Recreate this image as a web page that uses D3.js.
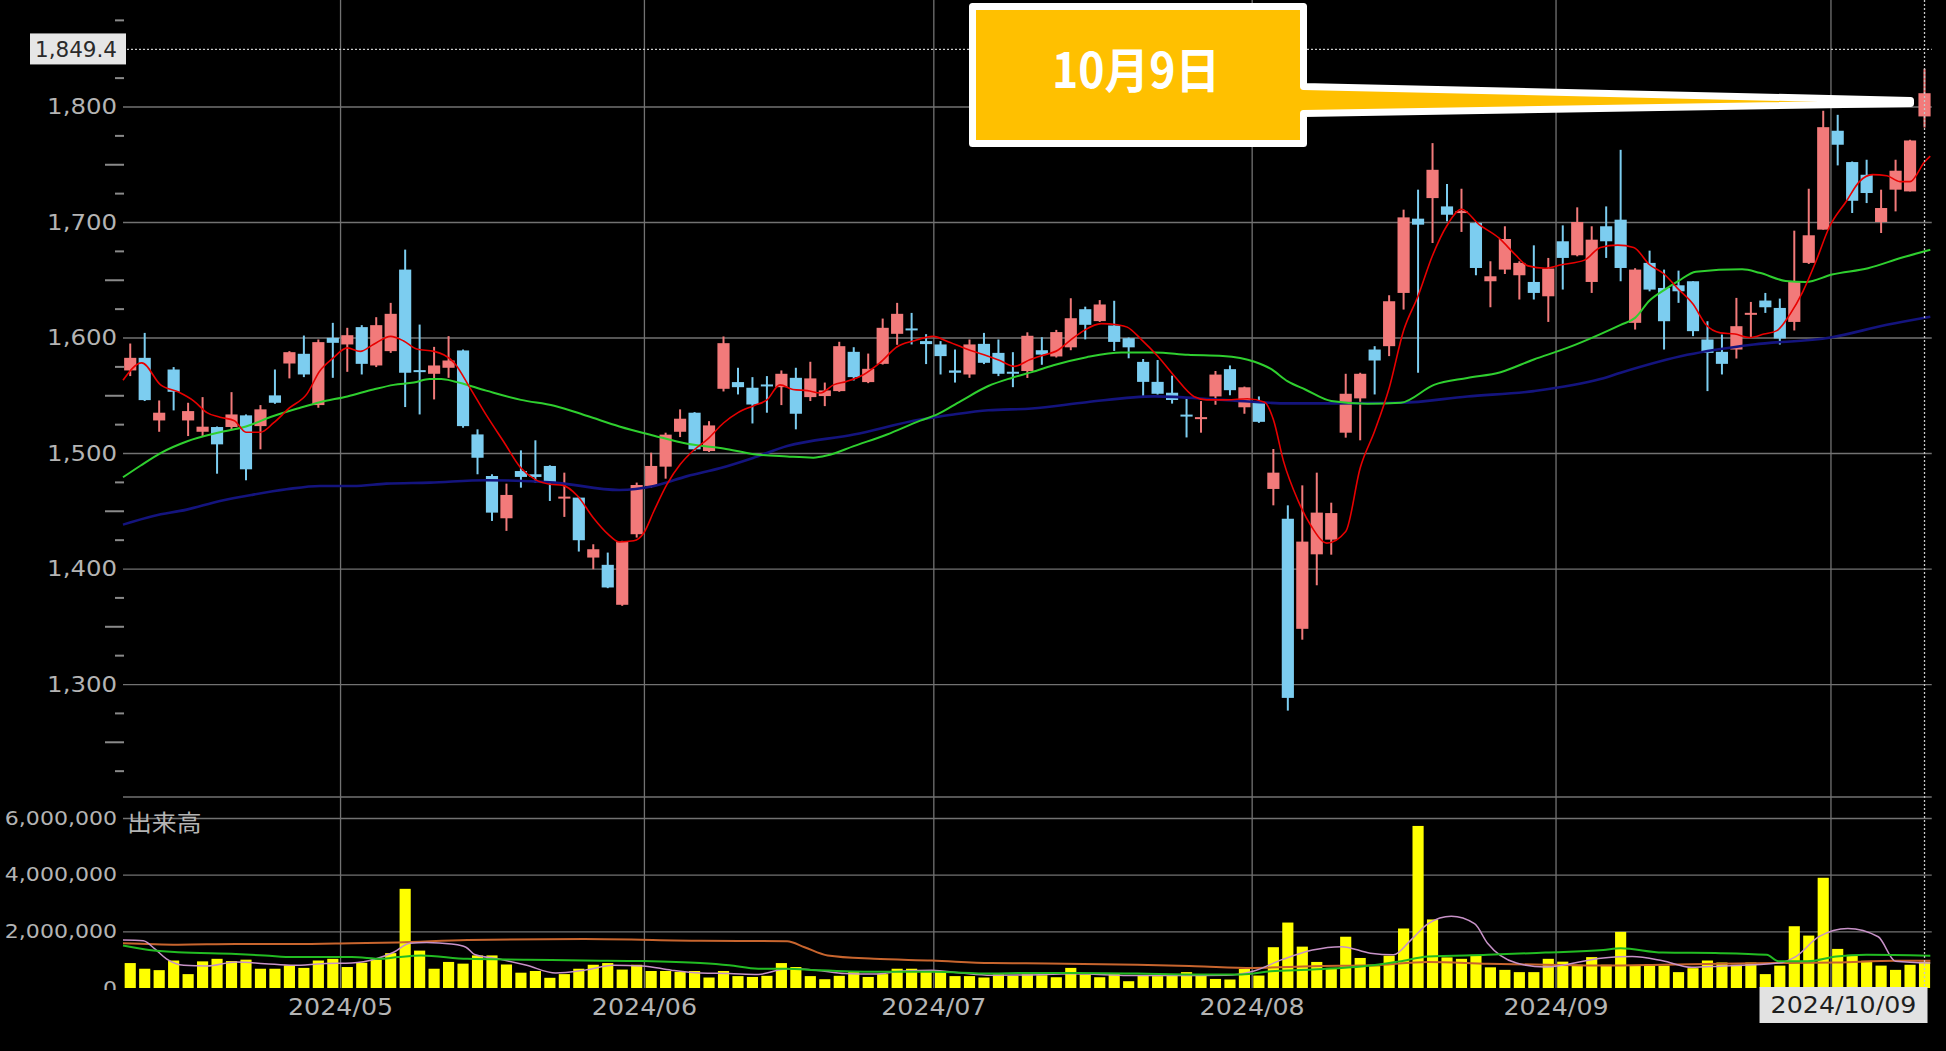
<!DOCTYPE html>
<html><head><meta charset="utf-8">
<script src="https://cdn.jsdelivr.net/npm/d3@7"></script>
<style>html,body{margin:0;padding:0;background:#000;overflow:hidden}</style>
</head><body>
<svg id="c" width="1946" height="1051"></svg>
<script>
// ---------- categories (trading days) ----------
const aprDays=[9,10,11,12,15,16,17,18,19,22,23,24,25,26,30];
const mayDays=[1,2,7,8,9,10,13,14,15,16,17,20,21,22,23,24,27,28,29,30,31];
const junDays=[3,4,5,6,7,10,11,12,13,14,17,18,19,20,21,24,25,26,27,28];
const julDays=[1,2,3,4,5,8,9,10,11,12,16,17,18,19,22,23,24,25,26,29,30,31];
const augDays=[1,2,5,6,7,8,9,13,14,15,16,19,20,21,22,23,26,27,28,29,30];
const sepDays=[2,3,4,5,6,9,10,11,12,13,17,18,19,20,24,25,26,27,30];
const octDays=[1,2,3,4,7,8,9];
const monthNames=["2024/04","2024/05","2024/06","2024/07","2024/08","2024/09","2024/10"];
// month labels shown under the axis (the October one is hidden behind the date box)
const monthTickLabels=["2024/05","2024/06","2024/07","2024/08","2024/09"];

// ---------- OHLC ----------
const openP=[1571.5,1582.4,1528.2,1572.3,1528.2,1518.4,1522.5,1522.5,1532.6,1523.3,
1549.9,1577.5,1585.9,1541.5,1599.7,1594,1609,1575.8,1588.2,1658.8,
1570.9,1568.6,1573.8,1588.8,1516.1,1480.1,1443.5,1484.4,1481.6,1488.8,
1460,1461.4,1409.5,1403.2,1368.6,1429.7,1471.5,1488.2,1518.4,1534.9,
1501.7,1555.6,1561.4,1556.5,1558.5,1557,1565.1,1548.4,1549.3,1553.6,
1587.6,1561.4,1577.2,1603.2,1607,1596.9,1594,1571.5,1568,1594.5,
1586.7,1569.5,1571,1589,1583.6,1591.5,1624.5,1614.2,1610.4,1599.4,
1578.9,1561.6,1552.2,1532.4,1528.6,1549,1572.6,1539.6,1544.3,1468.9,
1443.1,1347.8,1412.3,1425,1517.6,1547.3,1589.6,1592.5,1638.6,1702.9,
1720.7,1713.5,1706.9,1699.1,1648.7,1658.8,1653.9,1648.1,1635.7,1683.3,
1671.2,1648.1,1696.3,1702,1612.7,1664.6,1642.9,1645.2,1648.7,1598.3,
1587.6,1589.6,1619.3,1632,1625.6,1613.5,1664.6,1693.4,1779,1751.9,
1740.9,1700,1728,1726.5,1791.4];
const highP=[1594.8,1604,1545.5,1574.4,1543.5,1548.4,1523,1552.7,1533.4,1541.5,
1572.3,1588.2,1601.7,1598.3,1612.7,1608.4,1610.7,1617.6,1630,1676.1,
1611.2,1591.9,1601.2,1589.6,1520.5,1481.6,1473.5,1502.3,1511,1489.4,
1483,1462,1421,1413.8,1424,1474.4,1500.3,1517.6,1537.8,1535.4,
1527.6,1600.9,1573.8,1565.7,1566.6,1571.5,1573.8,1579,1561,1596.3,
1591.6,1586.1,1616.4,1630,1621.3,1602.9,1596.9,1589.6,1598.3,1604,
1598.3,1587.3,1604.5,1600.3,1606.6,1634,1626.7,1632.4,1631.8,1600,
1581.4,1580.5,1567,1546.9,1545,1571,1575.8,1557.5,1549,1503.5,
1454.7,1472,1483,1457,1568.6,1569.5,1592.5,1636.6,1710.7,1728,
1768.3,1732.9,1728.8,1700,1666,1696.3,1666,1679.8,1668.9,1697.1,
1712.7,1696.3,1713.5,1762.5,1660,1675.2,1658.8,1657.9,1648.7,1614.1,
1602.6,1634.3,1630.8,1638.6,1633.7,1692.5,1728.8,1796.3,1792.8,1752.4,
1753.9,1728,1753.9,1771.2,1832.6];
const lowP=[1566.6,1545,1518.4,1536.9,1514.7,1514.7,1482.1,1520,1476.4,1503.2,
1542.6,1564.6,1565.7,1539.2,1565.1,1570.3,1568,1574.4,1586.7,1539.8,
1533.4,1546.4,1565.1,1521.9,1481.6,1441.2,1432.6,1470,1474.4,1458.5,
1444.7,1414.7,1399.4,1383,1367.7,1426.8,1470,1477.8,1513.8,1501.7,
1500.9,1553.3,1550.7,1525.6,1534.9,1541.5,1520.5,1545,1540.6,1553,
1562.8,1560.5,1576.6,1593.7,1594,1577,1568,1561,1565.1,1577,
1566.6,1557,1565,1576.4,1582.7,1589,1598.4,1613.5,1588.4,1582,
1548.1,1550.6,1542.8,1513.5,1517.6,1541.8,1550,1534,1526.1,1454.7,
1277,1338.4,1385.5,1412,1513.3,1511,1550.7,1583.9,1624.2,1569.5,
1681.8,1700.6,1691.4,1653.9,1626.2,1655,1632.9,1632.9,1613.5,1641.5,
1670.3,1638.6,1668.9,1648.7,1606.9,1640,1589.6,1630,1601.2,1553.6,
1568,1581.8,1599.7,1621.3,1593.9,1606.1,1663.7,1693.4,1749,1707.8,
1716.4,1690.5,1709.2,1726.5,1781.8];
const closeP=[1582.4,1545.8,1534.9,1553,1536.3,1522.8,1507.5,1533.4,1485.9,1537.8,
1543.5,1587.3,1568,1596,1595.4,1602,1577.2,1610.7,1620.5,1569.5,
1569.5,1575.8,1580.1,1523.3,1495.9,1448.4,1463.7,1479.3,1479.3,1474.4,
1461.4,1424.5,1416.7,1383.6,1423.3,1472.3,1488.8,1515.9,1529.7,1503.2,
1523.9,1595.1,1557,1542,1557,1568.6,1534,1564.6,1554.2,1592.5,
1565.7,1572.9,1608.4,1620.5,1606,1594.3,1583.9,1569.5,1594,1578.1,
1568.6,1568,1601.5,1585.2,1604.7,1616.7,1611,1628.6,1596.2,1591.5,
1561.6,1551.3,1545.9,1530.8,1530.2,1567.9,1554.4,1556.9,1527,1483,
1288,1423.3,1448.4,1448,1551.3,1568.6,1580.1,1631.4,1704,1697.7,
1745.2,1706.3,1708.6,1660.2,1653,1685.3,1664.6,1638.6,1659.7,1668.9,
1700,1684.7,1683.3,1660.2,1658.8,1641.5,1614.1,1640,1605.5,1586.7,
1577.2,1609.8,1620.5,1626.2,1599.1,1648.1,1688.5,1782.1,1766.9,1718.4,
1725.1,1712.1,1744.4,1770.6,1811.5];

// ---------- volume (millions of shares) ----------
const volumeM=[0.88,0.68,0.63,0.97,0.49,0.94,1.03,0.95,1.0,0.68,0.68,0.8,0.71,0.97,1.03,
0.74,0.89,1.0,1.23,3.5,1.32,0.68,0.92,0.86,1.15,1.15,0.83,0.54,0.6,0.36,0.49,0.68,0.82,0.88,0.65,0.82,
0.6,0.6,0.57,0.6,0.37,0.6,0.42,0.39,0.43,0.88,0.74,0.42,0.31,0.43,0.59,0.39,0.49,0.68,0.68,0.59,
0.59,0.42,0.42,0.37,0.48,0.43,0.48,0.45,0.38,0.71,0.48,0.38,0.51,0.24,0.45,0.42,0.45,0.56,0.45,0.32,0.3,0.67,
0.44,1.44,2.31,1.46,0.92,0.71,1.81,1.06,0.77,1.14,2.1,5.72,2.42,1.08,1.03,1.17,0.73,0.64,0.56,0.56,1.03,
0.93,0.82,1.09,0.82,1.98,0.79,0.79,0.79,0.56,0.7,0.97,0.9,0.82,0.9,0.49,0.79,2.18,1.85,3.89,
1.38,1.17,0.96,0.79,0.64,0.82,0.93];

// ---------- moving-average lines: [candle index, value] ----------
const ma5Line=[[-0.5,1563],[0.8,1578],[2.1,1559],[3.3,1553],[4.4,1545],[5.3,1535],[6.2,1531],[7.2,1528],[8,1518],[9,1518],[9.9,1526],[11,1539],[12.2,1551],[13.1,1571],[14,1582],[15,1591],[15.9,1588],[16.8,1594],[18,1601],[18.9,1597],[19.8,1590],[21,1588],[22.4,1578],[23.5,1556],[24.6,1533],[25.8,1510],[27,1487],[28,1477],[29,1473],[29.9,1472],[30.9,1463],[32,1444],[33,1430],[33.8,1423],[34.8,1424],[35.5,1431],[36.2,1450],[37.1,1473],[38,1490],[38.9,1502],[39.9,1512],[41,1526],[42,1535],[43.1,1541],[44,1546],[44.9,1559],[45.8,1555],[46.8,1554],[47.7,1552],[48.6,1559],[49.5,1562],[50.7,1568],[51.8,1578],[53,1592],[54.1,1597],[55.5,1601],[56.4,1597],[57.8,1590],[59,1585],[60.1,1580],[61.1,1575],[62.2,1581],[62.9,1584],[64.1,1589],[65,1598],[65.9,1606],[67.1,1612],[68.2,1611],[68.9,1609],[69.9,1598],[71,1584],[72.2,1566],[73.5,1549],[74.4,1546],[75.8,1546],[77.2,1547],[78.4,1544],[79,1529],[79.7,1493],[80.7,1459],[81.6,1437],[82.7,1422],[84,1432],[85,1487],[86,1519],[87,1556],[88,1606],[89,1636],[90,1671],[91,1697],[92,1711],[93.2,1698],[94.6,1686],[95.7,1672],[96.6,1662],[97.8,1660],[98.9,1663],[100.5,1667],[101.6,1678],[102.8,1680],[103.9,1678],[105,1663],[106,1655],[106.9,1643],[108,1629],[108.9,1611],[109.9,1604],[110.9,1603],[111.9,1600],[112.9,1603],[113.8,1606],[114.7,1620],[115.6,1640],[116.5,1666],[117.4,1695],[118.6,1718],[119.5,1735],[120.4,1741],[121.4,1740],[122.3,1735],[123,1735],[124,1752],[124.4,1757]];
const ma25Line=[[-0.5,1479],[0.7,1489],[2.1,1500],[3.9,1510],[6.2,1518],[8,1523],[9.9,1532],[11.7,1539],[13.1,1544],[15,1549],[16.8,1555],[18.2,1559],[19.6,1561],[20.7,1564],[21.5,1564],[22.4,1562],[24.6,1554],[27,1546],[29.3,1541],[31.6,1532],[33.8,1523],[36.2,1515],[38.5,1508],[41,1504],[43.1,1499],[45.4,1497],[47.2,1496],[48.2,1498],[50,1506],[52.3,1516],[54.6,1528],[55.7,1533],[57.4,1545],[59.3,1558],[60.9,1565],[62.3,1570],[63.8,1576],[66.1,1583],[68.5,1587],[70.8,1587],[73.1,1585],[75.5,1584],[77.7,1579],[78.8,1573],[80,1562],[81.2,1555],[83,1545],[85.5,1542.6],[87.8,1543.5],[90.1,1559],[92.4,1565],[94.7,1570],[97,1581],[99.3,1591],[101.6,1603],[103,1611],[104,1617],[105,1632],[106,1641],[107,1649],[108.2,1657],[111.4,1659],[112.6,1656],[114.4,1649],[115.8,1648],[117.6,1654.5],[120.1,1660],[122.4,1669],[124.4,1676]];
const ma75Line=[[-0.5,1438],[1.6,1445.5],[3.9,1451],[6.2,1458.5],[8.5,1464],[10.8,1468.6],[13.1,1471.5],[15.4,1471.5],[17.7,1473.5],[20.7,1474.4],[24.6,1476.4],[29.3,1474.4],[33.8,1468],[36.2,1471.5],[38.5,1480],[40.8,1487],[43.1,1496],[45.4,1506],[50,1516],[54.6,1529],[56.9,1533.4],[59.3,1537],[62.3,1538.5],[66.1,1544],[70.8,1549],[75.5,1546],[80,1543],[83.2,1543],[87.8,1543.5],[92.4,1549],[97,1553.6],[101.6,1564],[103,1569.5],[107.6,1585],[112.2,1594],[117.5,1600],[121.4,1611],[124.4,1618]];
const vma5Line=[[-0.5,1.69],[0.9,1.67],[1.7,1.38],[2.5,1.03],[3.7,0.8],[5.3,0.78],[7.3,0.92],[9.3,0.86],[11.3,0.8],[13.3,0.86],[15.3,0.88],[17,1.03],[18.2,1.26],[19.3,1.58],[20.5,1.61],[22.2,1.55],[23.2,1.44],[23.8,1.18],[25.4,1.03],[27.4,0.8],[29.4,0.53],[31.4,0.63],[33.4,0.8],[35.4,0.78],[37.4,0.63],[39.4,0.53],[41.4,0.51],[43.4,0.48],[45.4,0.68],[47.4,0.63],[49.4,0.51],[51.4,0.49],[53.4,0.6],[55.4,0.63],[57.4,0.53],[59.5,0.45],[61.9,0.46],[65,0.5],[69.6,0.44],[75.7,0.45],[77.6,0.59],[79.6,1.0],[81.7,1.34],[83.7,1.46],[85.7,1.23],[87.3,1.17],[88.5,1.69],[89.7,2.27],[91.3,2.53],[92.9,2.27],[93.8,1.58],[95.8,0.88],[97.8,0.74],[101.8,1.06],[103.8,1.11],[105.9,0.96],[107.9,0.73],[109.9,0.77],[113.9,0.88],[115.1,1.11],[116.7,1.81],[118.7,2.1],[120.8,1.81],[122,0.94],[124.4,0.88]];
const vma25Line=[[-0.5,1.5],[1.3,1.34],[3.3,1.26],[7.3,1.2],[9.3,1.15],[11.3,1.09],[15.3,1.09],[17.4,1.03],[18.5,1.09],[20.1,1.15],[23.3,1.03],[27.4,1.0],[31.4,0.97],[35.4,0.95],[39.4,0.88],[41.4,0.8],[43.4,0.68],[45.4,0.68],[47.4,0.63],[51.4,0.57],[55.4,0.57],[59.5,0.51],[61.9,0.53],[65.5,0.53],[69.6,0.51],[73.6,0.48],[76.8,0.48],[78.8,0.59],[81.7,0.65],[85.7,0.79],[87.7,0.94],[89.7,1.11],[93.8,1.17],[97.8,1.25],[101.8,1.34],[103,1.4],[105.9,1.25],[109.9,1.23],[113.1,1.17],[113.9,0.94],[115.9,0.94],[117.9,1.11],[120,1.17],[124.4,1.14]];
const vma75Line=[[-0.5,1.58],[3.3,1.53],[7.3,1.55],[11.3,1.55],[15.3,1.58],[18.5,1.61],[23.3,1.69],[31.4,1.73],[39.4,1.67],[45.4,1.65],[46.6,1.44],[48.2,1.15],[51.4,1.03],[55.4,0.97],[59.5,0.88],[61.9,0.87],[69.6,0.82],[73.6,0.77],[77.6,0.71],[81.7,0.77],[85.7,0.8],[89.7,0.92],[93.8,0.86],[97.8,0.82],[101.8,0.79],[105.9,0.82],[109.9,0.86],[113.9,0.88],[117.9,0.9],[122,0.96],[124.4,0.96]];

// ---------- tick values / annotations ----------
const priceTicks=[1300,1400,1500,1600,1700,1800];
const priceMinorShort=[1225,1275,1325,1375,1425,1475,1525,1575,1625,1675,1725,1775,1825,1875];
const priceMinorLong=[1250,1350,1450,1550,1650,1750,1850];
const volTicks=[0,2000000,4000000,6000000];
const volGrid=[2000000,4000000,6000000];
const crosshairPrice=1849.4;
const crosshairLabel="1,849.4";
const calloutText="10月9日";
const calloutPrice=1804;
const volumeTitle="出来高";
const lastDateLabel="2024/10/09";

// ---------- build ----------
const dayLists=[aprDays,mayDays,junDays,julDays,augDays,sepDays,octDays];
const dates=[]; const monthStart=[];
dayLists.forEach((ds,m)=>{ if(m>0) monthStart.push(dates.length); ds.forEach(d=>dates.push(monthNames[m]+"/"+String(d).padStart(2,"0"))); });
const n=dates.length;
const X0=123, STEP=14.47, X1=X0+n*STEP;
const PBOT=797, VBOT=988;

const svg=d3.select("#c");
svg.append("rect").attr("width",1946).attr("height",1051).attr("fill","#000");

const x=d3.scaleBand().domain(d3.range(n)).range([X0,X1]);
const xi=d3.scaleLinear().domain([-0.5,n-0.5]).range([X0,X1]);
const y=d3.scaleLinear().domain([1202.2,1892.2]).range([PBOT,0]);
const yv=d3.scaleLinear().domain([0,6000000]).range([VBOT,818]);
const bw=x.bandwidth();
const GRID="#727272";
const FONT="DejaVu Sans";

function stretch(sel,k){sel.each(function(){const L=this.getComputedTextLength();this.setAttribute("textLength",L*k);this.setAttribute("lengthAdjust","spacingAndGlyphs");});}
function styleAxis(g){g.select(".domain").remove();g.selectAll(".tick line").attr("stroke",GRID).attr("stroke-width",1.3);return g;}

// horizontal gridlines (price)
styleAxis(svg.append("g").attr("transform",`translate(${X0},0)`)
  .call(d3.axisLeft(y).tickValues(priceTicks).tickSize(-(X1-X0)).tickFormat("")));
// panel separator
svg.append("line").attr("x1",X0).attr("x2",X1).attr("y1",y.range()[0]).attr("y2",y.range()[0]).attr("stroke",GRID).attr("stroke-width",1.5);
// volume gridlines
styleAxis(svg.append("g").attr("transform",`translate(${X0},0)`)
  .call(d3.axisLeft(yv).tickValues(volGrid).tickSize(-(X1-X0)).tickFormat("")));
// vertical month gridlines
styleAxis(svg.append("g").attr("transform",`translate(0,${VBOT})`)
  .call(d3.axisBottom(xi).tickValues(monthStart.map(i=>i-0.5)).tickSize(-VBOT).tickFormat("")));

// minor ticks
const gms=svg.append("g").attr("transform",`translate(${X0+1},0)`).call(d3.axisLeft(y).tickValues(priceMinorShort).tickSize(9).tickFormat(""));
gms.select(".domain").remove(); gms.selectAll(".tick line").attr("stroke","#8a8a8a").attr("stroke-width",2);
const gml=svg.append("g").attr("transform",`translate(${X0+1},0)`).call(d3.axisLeft(y).tickValues(priceMinorLong).tickSize(19).tickFormat(""));
gml.select(".domain").remove(); gml.selectAll(".tick line").attr("stroke","#8a8a8a").attr("stroke-width",2);

// candles
const UP="#f27a7a", DN="#7ccdf0";
const cg=svg.append("g");
const cd=d3.range(n).map(i=>({i,o:openP[i],h:highP[i],l:lowP[i],c:closeP[i]}));
cg.selectAll("line.w").data(cd).join("line").attr("class","w")
  .attr("x1",d=>x(d.i)+bw/2).attr("x2",d=>x(d.i)+bw/2)
  .attr("y1",d=>y(d.h)).attr("y2",d=>y(d.l))
  .attr("stroke",d=>d.c>=d.o?UP:DN).attr("stroke-width",2);
const BW=bw*0.84;
cg.selectAll("rect.b").data(cd).join("rect").attr("class","b")
  .attr("x",d=>x(d.i)+(bw-BW)/2).attr("width",BW)
  .attr("y",d=>Math.min(y(d.o),y(d.c))-(Math.abs(y(d.o)-y(d.c))<2?1:0))
  .attr("height",d=>Math.max(2,Math.abs(y(d.o)-y(d.c))))
  .attr("fill",d=>d.c>=d.o?UP:DN);

// price MAs
const pl=d3.line().x(d=>xi(d[0])).y(d=>y(d[1])).curve(d3.curveMonotoneX);
svg.append("path").datum(ma75Line).attr("d",pl).attr("fill","none").attr("stroke","#14147e").attr("stroke-width",2.6);
svg.append("path").datum(ma25Line).attr("d",pl).attr("fill","none").attr("stroke","#2fcf2f").attr("stroke-width",2);
svg.append("path").datum(ma5Line).attr("d",pl).attr("fill","none").attr("stroke","#e80000").attr("stroke-width",1.6);

// volume bars
const VW=bw*0.77;
svg.append("g").selectAll("rect").data(volumeM).join("rect")
  .attr("x",(v,i)=>x(i)+(bw-VW)/2).attr("width",VW)
  .attr("y",v=>yv(v*1e6)).attr("height",v=>VBOT-yv(v*1e6)).attr("fill","#ffff00");
const vl=d3.line().x(d=>xi(d[0])).y(d=>yv(d[1]*1e6)).curve(d3.curveMonotoneX);
svg.append("path").datum(vma75Line).attr("d",vl).attr("fill","none").attr("stroke","#c8652e").attr("stroke-width",2);
svg.append("path").datum(vma5Line).attr("d",vl).attr("fill","none").attr("stroke","#c892c8").attr("stroke-width",1.5);
svg.append("path").datum(vma25Line).attr("d",vl).attr("fill","none").attr("stroke","#22bb22").attr("stroke-width",2);

// crosshair
const lastX=xi(n-1);
svg.append("line").attr("x1",X0).attr("x2",X1).attr("y1",y(crosshairPrice)).attr("y2",y(crosshairPrice))
  .attr("stroke","#c8c8c8").attr("stroke-width",1.3).attr("stroke-dasharray","2,2");
svg.append("line").attr("x1",lastX).attr("x2",lastX).attr("y1",0).attr("y2",VBOT)
  .attr("stroke","#c8c8c8").attr("stroke-width",1.3).attr("stroke-dasharray","2,2");

// price axis labels
const gy=svg.append("g").attr("transform",`translate(${X0-6},0)`)
  .call(d3.axisLeft(y).tickValues(priceTicks).tickFormat(d3.format(",")).tickSize(0).tickPadding(0));
gy.select(".domain").remove();
gy.attr("font-family",FONT).attr("font-size",22);
gy.selectAll("text").attr("fill","#b4b4b4");
stretch(gy.selectAll("text"),1.11);

// volume axis labels
const gv=svg.append("g").attr("transform",`translate(${X0-6},0)`)
  .call(d3.axisLeft(yv).tickValues(volTicks).tickFormat(d3.format(",")).tickSize(0).tickPadding(0));
gv.select(".domain").remove();
gv.attr("font-family",FONT).attr("font-size",19);
gv.selectAll("text").attr("fill","#b4b4b4");
stretch(gv.selectAll("text"),1.16);
// mask below volume panel (cuts the "0" label like the original)
svg.append("rect").attr("x",0).attr("y",VBOT+2).attr("width",X0-2).attr("height",1051-VBOT).attr("fill","#000");

// volume title
const vt=svg.append("text").attr("x",X0+4).attr("y",831).attr("fill","#b4b4b4")
  .attr("font-family","Noto Sans CJK JP").attr("font-size",23).text(volumeTitle);
stretch(vt,1.08);

// x axis labels (months that are visible)
const gx=svg.append("g").attr("transform",`translate(0,${VBOT})`)
  .call(d3.axisBottom(xi).tickValues(monthStart.slice(0,monthTickLabels.length).map(i=>i-0.5)).tickFormat((d,k)=>monthTickLabels[k]).tickSize(0).tickPadding(11));
gx.select(".domain").remove();
gx.attr("font-family",FONT).attr("font-size",23);
gx.selectAll("text").attr("fill","#b4b4b4");
stretch(gx.selectAll("text"),1.1);

// crosshair price box
const cy=y(crosshairPrice);
svg.append("rect").attr("x",30).attr("y",cy-16).attr("width",96).attr("height",31).attr("fill","#e6e6e6");
svg.append("text").attr("x",X0-6).attr("y",cy).attr("dy","0.36em").attr("text-anchor","end")
  .attr("font-family",FONT).attr("font-size",22).attr("fill","#2a2a2a")
  .attr("textLength",82).attr("lengthAdjust","spacingAndGlyphs").text(crosshairLabel);

// crosshair date box
const bxR=lastX+3, bxW=168;
svg.append("rect").attr("x",bxR-bxW).attr("y",VBOT-1).attr("width",bxW).attr("height",36).attr("fill","#e2e2e2");
const dl=svg.append("text").attr("x",bxR-bxW/2).attr("y",VBOT+17).attr("dy","0.36em").attr("text-anchor","middle")
  .attr("font-family",FONT).attr("font-size",23).attr("fill","#1e1e1e").text(lastDateLabel);
stretch(dl,1.1);

// callout
const tipX=lastX-14, tipY=y(calloutPrice);
const bx0=972.5,bx1=1303.5,by0=6.5,by1=143.5,wy0=86.5,wy1=113.5;
const cp=d3.path();
cp.moveTo(bx0,by0); cp.lineTo(bx1,by0); cp.lineTo(bx1,wy0); cp.lineTo(tipX,tipY-1.5);
cp.lineTo(tipX,tipY+1.5); cp.lineTo(bx1,wy1); cp.lineTo(bx1,by1); cp.lineTo(bx0,by1); cp.closePath();
svg.append("path").attr("d",cp.toString()).attr("fill","#ffc000").attr("stroke","#fff").attr("stroke-width",7).attr("stroke-linejoin","round");
svg.append("text").attr("x",(bx0+bx1)/2-2).attr("y",88).attr("text-anchor","middle")
  .attr("font-family","Noto Sans CJK JP").attr("font-weight",700).attr("font-size",48).attr("fill","#fff")
  .attr("textLength",168).attr("lengthAdjust","spacingAndGlyphs").text(calloutText);
</script>
</body></html>
